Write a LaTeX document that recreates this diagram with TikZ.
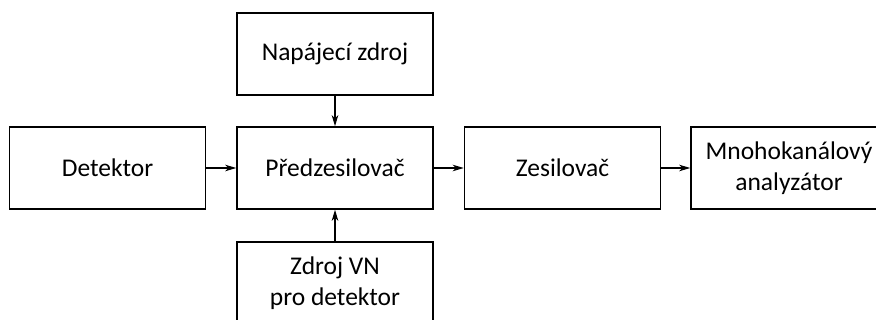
\documentclass[tikz,border=0pt]{standalone}
\usepackage{fontspec}
\setmainfont{Carlito}
\usetikzlibrary{arrows.meta}
\begin{document}
\begin{tikzpicture}[x=1pt,y=-1pt,
  blok/.style={draw, line width=1.6pt, inner sep=0pt, align=center,
    minimum width=196pt, minimum height=82pt,
    font=\fontsize{25.5}{30.5}\selectfont},
  sipka/.style={line width=1.1pt, -{Stealth[length=11pt,width=6.5pt,inset=3pt]}}]
  \clip (0,0) rectangle (876,320);
  \node[blok] (napajeci) at (335,54) {Napájecí zdroj};
  \node[blok] (detektor) at (107.5,168) {Detektor};
  \node[blok] (predz) at (335,168) {Předzesilovač};
  \node[blok] (zesil) at (562.5,168) {Zesilovač};
  \node[blok] (mca) at (789,168) {Mnohokanálový\\analyzátor};
  \node[blok] (vn) at (335,283) {Zdroj VN\\pro detektor};
  \draw[sipka] (napajeci) -- (predz);
  \draw[sipka] (vn) -- (predz);
  \draw[sipka] (detektor) -- (predz);
  \draw[sipka] (predz) -- (zesil);
  \draw[sipka] (zesil) -- (mca);
\end{tikzpicture}
\end{document}
